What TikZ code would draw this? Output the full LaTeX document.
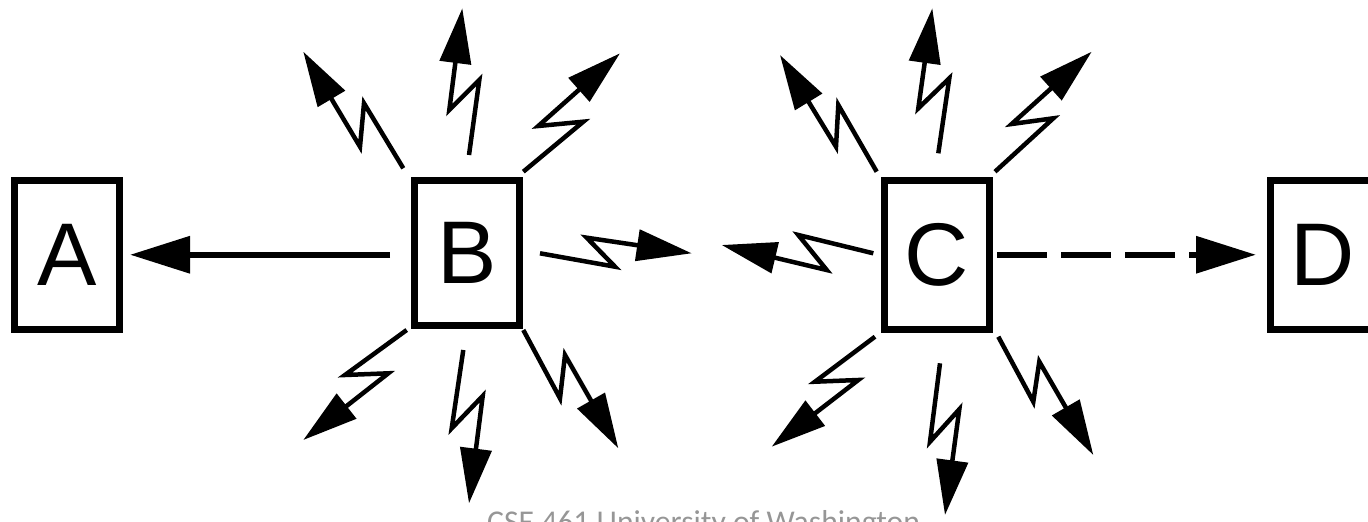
\documentclass[tikz,border=0pt]{standalone}
\usepackage{fontspec}
\setmainfont{Liberation Sans}
\newfontfamily\footfont{Carlito}
\usetikzlibrary{arrows.meta}
\definecolor{footgray}{RGB}{150,150,150}
\begin{document}
\begin{tikzpicture}[x=1pt,y=-1pt,
  box/.style={draw, line width=7pt, inner sep=0pt, minimum width=105pt,
    font=\fontsize{89}{89}\selectfont},
  bigarrow/.style={line width=6.5pt, -{Triangle[length=60pt,width=36pt]}},
  bolt/.style={line width=4.5pt, -{Triangle[length=55pt,width=31pt]}}]
\useasboundingbox (0,0) rectangle (1368,522);

% stations
\node[box, minimum height=148.5pt] (A) at (67,254.75) {A};
\node[box, minimum height=144.5pt] (B) at (467,252.75) {B};
\node[box, minimum height=148.5pt] (C) at (937,254.75) {C};
\node[box, minimum height=148.5pt] (D) at (1323,254.75) {D};

% wired links
\draw[bigarrow, shorten <=21pt, shorten >=7pt] (B.west |- A.east) -- (A.east);
\draw[bigarrow, dash pattern=on 50pt off 14pt, shorten <=4pt, shorten >=11pt]
  (C.east) -- (D.west);

% radio broadcast from B
\begin{scope}[shift={(B.center)}]
  \draw[bolt] (-63.7,-84.45) -- (-103,-149.45) -- (-107,-106.05) -- (-163.7,-201.05);
  \draw[bolt] (2,-97.75) -- (12.3,-172.75) -- (-17.7,-142.75) -- (-4.7,-244.45);
  \draw[bolt] (56.3,-81.05) -- (116.3,-131.05) -- (71.3,-126.75) -- (153,-199.45);
  \draw[bolt] (-60.3,77.25) -- (-122,122.25) -- (-78.7,120.55) -- (-163.7,187.25);
  \draw[bolt] (-3.7,97.25) -- (-15.3,175.55) -- (15.7,143.25) -- (2,250.55);
  \draw[bolt] (56.3,77.25) -- (93,145.55) -- (98,102.25) -- (151.3,195.55);
  \draw[bolt] (73,0.55) -- (148,13.95) -- (119.7,-15.05) -- (224.7,0.55);
\end{scope}

% radio broadcast from C
\begin{scope}[shift={(C.center)}]
  \draw[bolt] (-60.3,-83.05) -- (-98.7,-149.75) -- (-101,-108.05) -- (-157,-199.75);
  \draw[bolt] (1.3,-101.45) -- (12.3,-176.45) -- (-18.7,-146.45) -- (-4.7,-246.45);
  \draw[bolt] (58,-83.05) -- (116.3,-136.45) -- (74.7,-130.75) -- (154.7,-203.05);
  \draw[bolt] (-62,81.95) -- (-122,126.95) -- (-78.7,125.25) -- (-165.3,191.95);
  \draw[bolt] (3,108.55) -- (-7,186.95) -- (22.3,154.55) -- (8,260.25);
  \draw[bolt] (61.3,81.95) -- (96.3,146.95) -- (102.3,106.95) -- (156.3,200.25);
  \draw[bolt] (-63.7,-1.45) -- (-138.7,-19.75) -- (-110.3,15.25) -- (-215.3,-9.75);
\end{scope}

% footer
\node[anchor=base west, inner sep=0pt, text=footgray,
  font=\footfont\fontsize{31.7}{32}\selectfont] (foot) at (487,532)
  {CSE 461 University of Washington};
\end{tikzpicture}
\end{document}
